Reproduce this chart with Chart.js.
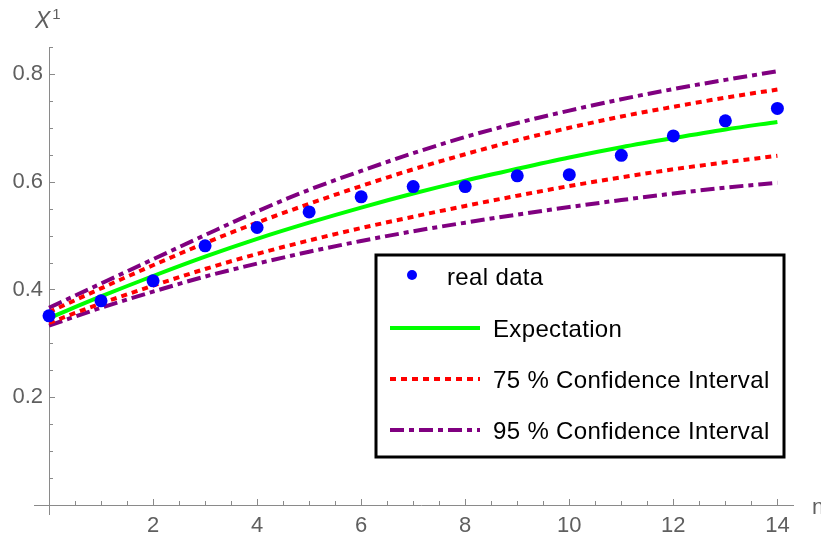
<!DOCTYPE html>
<html><head><meta charset="utf-8">
<script src="https://cdn.jsdelivr.net/npm/chart.js@4.4.1/dist/chart.umd.min.js"></script>
<style>html,body{margin:0;padding:0;background:#fff;}#wrap{width:821px;height:538px;position:relative;}</style>
</head><body><div id="wrap"><canvas id="c" width="821" height="538"></canvas></div>
<script>
// ---- data ----
const nValues     = [0, 1, 2, 3, 4, 5, 6, 7, 8, 9, 10, 11, 12, 13, 14];
const realData    = [0.351, 0.379, 0.416, 0.481, 0.515, 0.544, 0.572, 0.591, 0.591, 0.611, 0.613, 0.649, 0.685, 0.713, 0.736];
const expectation = [0.347, 0.387, 0.425, 0.461, 0.494, 0.524, 0.552, 0.578, 0.602, 0.624, 0.645, 0.664, 0.681, 0.697, 0.711];
const ci75Upper   = [0.358, 0.402, 0.445, 0.486, 0.524, 0.559, 0.592, 0.623, 0.651, 0.677, 0.700, 0.721, 0.739, 0.756, 0.771];
const ci75Lower   = [0.338, 0.374, 0.407, 0.438, 0.466, 0.491, 0.514, 0.535, 0.555, 0.574, 0.592, 0.608, 0.623, 0.636, 0.648];
const ci95Upper   = [0.366, 0.411, 0.456, 0.501, 0.545, 0.585, 0.620, 0.653, 0.683, 0.709, 0.732, 0.753, 0.772, 0.789, 0.805];
const ci95Lower   = [0.333, 0.366, 0.396, 0.424, 0.448, 0.470, 0.490, 0.508, 0.524, 0.539, 0.553, 0.566, 0.578, 0.589, 0.598];
const xTickValues = [2, 4, 6, 8, 10, 12, 14];
const yTickValues = [0.2, 0.4, 0.6, 0.8];
const legendLabels = ['real data', 'Expectation', '75 % Confidence Interval', '95 % Confidence Interval'];
const xAxisLabel = 'n';
const yAxisLabel = 'X';
const yAxisSup = '1';

// ---- styles ----
const FONT = "'Liberation Sans', Arial, sans-serif";
const AXIS_COLOR = '#8a8a8a';
const LABEL_COLOR = '#5f5f5f';
const DASH75 = [6, 5];
const DASH95 = [14, 5, 5, 5];

const pts = arr => nValues.map((n, i) => ({x: n, y: arr[i]}));

const lineDs = (label, arr, color, dash) => ({
  label, data: pts(arr), borderColor: color, backgroundColor: color,
  borderWidth: 4, borderDash: dash, pointRadius: 0, pointHoverRadius: 0,
  cubicInterpolationMode: 'monotone', fill: false, clip: false
});

const decorPlugin = {
  id: 'decor',
  beforeDatasetsDraw(chart) {
    const {ctx, scales: {x, y}} = chart;
    const x0 = x.getPixelForValue(0), y0 = y.getPixelForValue(0);
    ctx.save();
    ctx.strokeStyle = AXIS_COLOR;
    ctx.lineWidth = 1;
    ctx.beginPath();
    // axis overhangs past the origin
    ctx.moveTo(x0 - 15, Math.round(y0) + 0.5); ctx.lineTo(x0, Math.round(y0) + 0.5);
    ctx.moveTo(Math.round(x0) + 0.5, y0); ctx.lineTo(Math.round(x0) + 0.5, y0 + 10);
    // inward ticks on x
    for (let k = 1; k * 0.5 <= x.max + 1e-9; k++) {
      const v = k * 0.5;
      const px = Math.round(x.getPixelForValue(v)) + 0.5;
      const len = (k % 4 === 0) ? 6 : 4;
      ctx.moveTo(px, y0); ctx.lineTo(px, y0 - len);
    }
    // inward ticks on y
    for (let k = 1; k * 0.05 <= y.max + 1e-9; k++) {
      const v = k * 0.05;
      const py = Math.round(y.getPixelForValue(v)) + 0.5;
      const len = (k % 4 === 0) ? 6 : 4;
      ctx.moveTo(x0, py); ctx.lineTo(x0 + len, py);
    }
    ctx.stroke();
    // axis labels
    ctx.fillStyle = LABEL_COLOR;
    ctx.textBaseline = 'alphabetic';
    ctx.textAlign = 'left';
    ctx.font = 'italic 23px ' + FONT;
    ctx.fillText(yAxisLabel, x0 - 14, y.top - 19);
    const w = ctx.measureText(yAxisLabel).width;
    ctx.font = '15px ' + FONT;
    ctx.fillText(yAxisSup, x0 - 14 + w + 2, y.top - 28);
    ctx.font = '22px ' + FONT;
    ctx.fillText(xAxisLabel, x.right + 19, y0 + 9);
    ctx.restore();
  },
  afterDatasetsDraw(chart) {
    const {ctx} = chart;
    const box = {left: 376, top: 255, width: 408, height: 202};
    ctx.save();
    ctx.fillStyle = '#ffffff';
    ctx.fillRect(box.left, box.top, box.width, box.height);
    ctx.strokeStyle = '#000000';
    ctx.lineWidth = 3;
    ctx.strokeRect(box.left, box.top, box.width, box.height);
    const rowY = [20, 73, 124, 175];
    const ds = chart.data.datasets;
    // marker row
    ctx.fillStyle = ds[0].backgroundColor;
    ctx.beginPath();
    ctx.arc(box.left + 36, box.top + rowY[0], 5, 0, Math.PI * 2);
    ctx.fill();
    // line rows
    const lineStyles = [ds[1], ds[2], ds[4]];
    lineStyles.forEach((d, i) => {
      const yy = box.top + rowY[i + 1];
      ctx.strokeStyle = d.borderColor;
      ctx.lineWidth = 4;
      ctx.setLineDash(d.borderDash || []);
      ctx.beginPath();
      ctx.moveTo(box.left + 14, yy); ctx.lineTo(box.left + 104, yy);
      ctx.stroke();
    });
    ctx.setLineDash([]);
    ctx.fillStyle = '#000000';
    ctx.font = '24px ' + FONT;
    if ('letterSpacing' in ctx) ctx.letterSpacing = '0.35px';
    ctx.textBaseline = 'alphabetic';
    ctx.textAlign = 'left';
    ctx.fillText(legendLabels[0], box.left + 71, box.top + rowY[0] + 10);
    for (let i = 1; i < 4; i++) {
      ctx.fillText(legendLabels[i], box.left + 117, box.top + rowY[i] + 9);
    }
    ctx.restore();
  }
};

new Chart(document.getElementById('c'), {
  type: 'line',
  data: {
    datasets: [
      {label: legendLabels[0], data: pts(realData), showLine: false, pointRadius: 6.5, pointHoverRadius: 6.5,
       backgroundColor: '#0000ff', borderColor: '#0000ff', pointBorderWidth: 0, clip: false},
      lineDs(legendLabels[1], expectation, '#00ff00', []),
      lineDs(legendLabels[2], ci75Upper, '#ff0000', DASH75),
      lineDs(legendLabels[2], ci75Lower, '#ff0000', DASH75),
      lineDs(legendLabels[3], ci95Upper, '#800080', DASH95),
      lineDs(legendLabels[3], ci95Lower, '#800080', DASH95)
    ]
  },
  options: {
    responsive: false,
    animation: false,
    devicePixelRatio: 1,
    layout: {padding: {top: 47, right: 28, left: 0, bottom: 0}},
    plugins: {legend: {display: false}, tooltip: {enabled: false}, title: {display: false}},
    scales: {
      x: {
        type: 'linear', min: 0, max: 14.3,
        afterBuildTicks: s => { s.ticks = xTickValues.map(v => ({value: v})); },
        afterFit: s => { s.height = 33; },
        grid: {display: true, drawOnChartArea: false, drawTicks: false},
        border: {display: true, color: AXIS_COLOR, width: 1},
        ticks: {color: LABEL_COLOR, font: {family: FONT, size: 22}, padding: 8, maxRotation: 0, autoSkip: false}
      },
      y: {
        type: 'linear', min: 0, max: 0.85,
        afterBuildTicks: s => { s.ticks = yTickValues.map(v => ({value: v})); },
        afterFit: s => { s.width = 49; },
        grid: {display: true, drawOnChartArea: false, drawTicks: false},
        border: {display: true, color: AXIS_COLOR, width: 1},
        ticks: {color: LABEL_COLOR, font: {family: FONT, size: 22}, padding: 6, autoSkip: false,
                callback: v => v.toFixed(1)}
      }
    }
  },
  plugins: [decorPlugin]
});
</script>
</body></html>
